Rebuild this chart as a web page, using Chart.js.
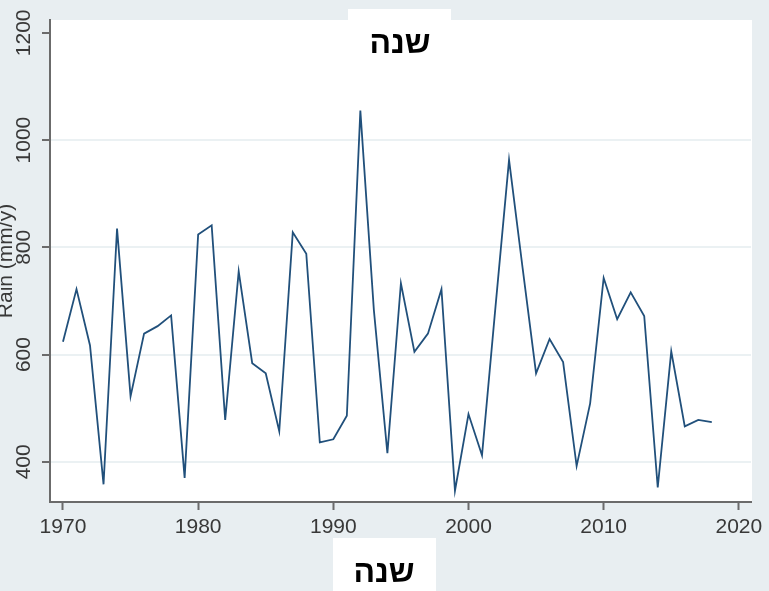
<!DOCTYPE html>
<html>
<head>
<meta charset="utf-8">
<script src="https://cdn.jsdelivr.net/npm/chart.js@4/dist/chart.umd.min.js"></script>
<style>
  html, body { margin: 0; padding: 0; background: #e8eef1; }
  #wrap { width: 769px; height: 591px; }
</style>
</head>
<body>
<div id="wrap"><canvas id="rainChart" width="769" height="591"></canvas></div>
<script>
const years = [
  1970, 1971, 1972, 1973, 1974, 1975, 1976, 1977, 1978, 1979,
  1980, 1981, 1982, 1983, 1984, 1985, 1986, 1987, 1988, 1989,
  1990, 1991, 1992, 1993, 1994, 1995, 1996, 1997, 1998, 1999,
  2000, 2001, 2002, 2003, 2004, 2005, 2006, 2007, 2008, 2009,
  2010, 2011, 2012, 2013, 2014, 2015, 2016, 2017, 2018
]
const rain = [
  624, 722, 617, 358, 835, 522, 639, 653, 673, 370,
  824, 841, 478, 755, 584, 565, 457, 828, 788, 436,
  442, 486, 1055, 683, 416, 733, 605, 639, 722, 346,
  489, 412, 690, 963, 762, 565, 629, 586, 392, 509,
  743, 666, 716, 672, 352, 606, 466, 478, 474
]
const xTicks = [1970, 1980, 1990, 2000, 2010, 2020]
const yTicks = [400, 600, 800, 1000, 1200]
const titleText = 'שנה'
const yTitle = 'Rain (mm/y)'

const axisGray = '#6b6b6b'
const labelGray = '#383838'
const tickFont = { family: 'Liberation Sans, Arial, sans-serif', size: 21 }

// white plot area + the two pasted white label boxes
const plotBackground = {
  id: 'plotBackground',
  beforeDraw(chart) {
    const { ctx, chartArea: a } = chart
    ctx.save()
    ctx.fillStyle = '#ffffff'
    ctx.fillRect(a.left, a.top, a.right - a.left + 1, a.bottom - a.top)
    ctx.fillRect(348, 9, 103, a.top)
    ctx.restore()
  },
  afterDraw(chart) {
    const { ctx } = chart
    ctx.save()
    ctx.fillStyle = '#ffffff'
    ctx.fillRect(333, 538, 103, 53)
    ctx.fillStyle = '#000000'
    ctx.font = 'bold 32px "Liberation Sans", Arial, sans-serif'
    ctx.textAlign = 'center'
    ctx.textBaseline = 'middle'
    ctx.fillText(titleText, 400, 44)
    ctx.fillText(titleText, 384, 573)
    ctx.restore()
  }
}

new Chart(document.getElementById('rainChart'), {
  type: 'line',
  data: {
    datasets: [{
      label: yTitle,
      data: years.map((yr, i) => ({ x: yr, y: rain[i] })),
      borderColor: '#21507b',
      borderWidth: 1.8,
      pointRadius: 0,
      tension: 0,
      fill: false
    }]
  },
  options: {
    responsive: false,
    animation: false,
    layout: { padding: { left: 0, right: 18, top: 20, bottom: 0 } },
    plugins: {
      legend: { display: false },
      tooltip: { enabled: false }
    },
    scales: {
      x: {
        type: 'linear',
        min: 1969.04,
        max: 2020.9,
        afterBuildTicks: (scale) => { scale.ticks = xTicks.map(v => ({ value: v })) },
        afterFit: (scale) => { scale.height = 89 },
        border: { color: axisGray, width: 2 },
        grid: {
          drawOnChartArea: false,
          tickColor: axisGray,
          tickWidth: 2,
          tickLength: 8
        },
        ticks: {
          color: labelGray,
          font: tickFont,
          padding: 5,
          maxRotation: 0,
          callback: (v) => String(v)
        }
      },
      y: {
        min: 325,
        max: 1224,
        afterBuildTicks: (scale) => { scale.ticks = yTicks.map(v => ({ value: v })) },
        afterFit: (scale) => { scale.width = 50 },
        border: { color: axisGray, width: 2 },
        grid: {
          color: (c) => c.tick && c.tick.value === 1200 ? 'rgba(0,0,0,0)' : '#ebf1f3',
          lineWidth: 2,
          tickColor: axisGray,
          tickWidth: 2,
          tickLength: 8
        },
        ticks: {
          color: labelGray,
          font: tickFont,
          padding: -6,
          minRotation: 90,
          maxRotation: 90,
          crossAlign: 'center',
          callback: (v) => String(v)
        },
        title: {
          display: true,
          text: yTitle,
          color: labelGray,
          font: tickFont,
          padding: { top: -6, bottom: 0 }
        }
      }
    }
  },
  plugins: [plotBackground]
})
</script>
</body>
</html>
